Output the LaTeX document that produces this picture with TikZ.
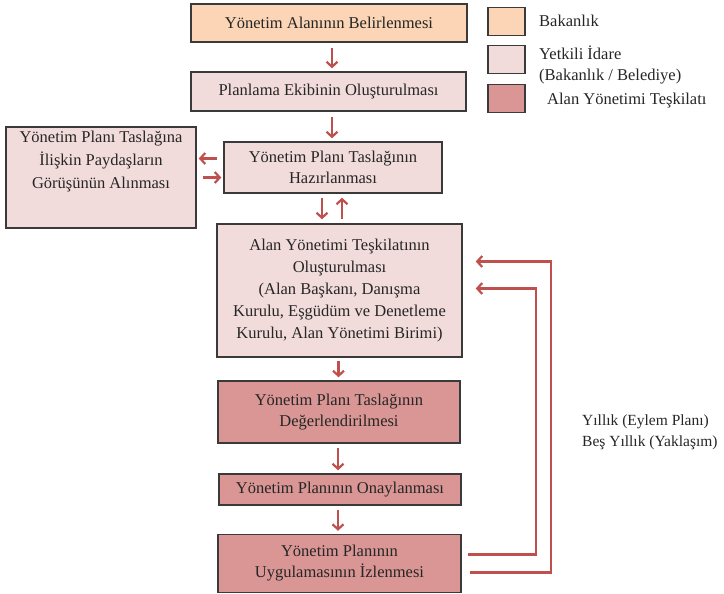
\documentclass[tikz,border=0pt]{standalone}
\usepackage{fontspec}
\setmainfont{Liberation Serif}
\usetikzlibrary{arrows.meta,calc}
\definecolor{peach}{HTML}{FBD5B5}
\definecolor{lpink}{HTML}{F2DCDB}
\definecolor{rose}{HTML}{D99694}
\definecolor{arr}{HTML}{C0504D}
\definecolor{edge}{HTML}{3A3A3A}
\begin{document}
\begin{tikzpicture}[x=1pt,y=-1pt,
  box/.style={draw=edge, line width=1.5pt, align=center, inner sep=0pt,
    text=black!85, font=\fontsize{16.5}{21}\selectfont},
  plain/.style={inner sep=0pt, text=black!85, font=\fontsize{16.5}{21}\selectfont},
  legsq/.style={draw=edge, line width=1.5pt, minimum width=37pt, minimum height=28pt, inner sep=0pt},
  ar/.style={draw=arr, line width=2.2pt, -{Straight Barb[length=5pt,width=11pt]}},
]
\useasboundingbox (0,0) rectangle (724,594);

% main boxes
\node[box, fill=peach, minimum width=276pt, minimum height=38pt] (b1) at (329,23) {Yönetim Alanının Belirlenmesi};
\node[box, fill=lpink, minimum width=275pt, minimum height=39pt] (b2) at (328.5,91.5) {Planlama Ekibinin Oluşturulması};
\node[box, fill=lpink, minimum width=218pt, minimum height=51pt] (b3) at (333,167.5) {Yönetim Planı Taslağının\\Hazırlanması};
\node[box, fill=lpink, minimum width=190pt, minimum height=101pt] (lb) at (101,177.5) {};
\node[plain, align=center, font=\fontsize{16.5}{23}\selectfont] (lbt) at ($(lb.north)+(0,35)$) {Yönetim Planı Taslağına\\İlişkin Paydaşların\\Görüşünün Alınması};
\node[box, fill=lpink, minimum width=245pt, minimum height=133pt, font=\fontsize{16.5}{22}\selectfont] (b4) at (339.5,290.5) {Alan Yönetimi Teşkilatının\\Oluşturulması\\(Alan Başkanı, Danışma\\Kurulu, Eşgüdüm ve Denetleme\\Kurulu, Alan Yönetimi Birimi)};
\node[box, fill=rose, minimum width=242pt, minimum height=62pt] (b5) at (339,412) {Yönetim Planı Taslağının\\Değerlendirilmesi};
\node[box, fill=rose, minimum width=242pt, minimum height=31pt] (b6) at (340,489.5) {Yönetim Planının Onaylanması};
\node[box, fill=rose, minimum width=243pt, minimum height=58pt] (b7) at (339.5,563.5) {Yönetim Planının\\Uygulamasının İzlenmesi};

% legend
\node[legsq, fill=peach] (l1) at (506.5,21.5) {};
\node[legsq, fill=lpink] (l2) at (506.5,59.5) {};
\node[legsq, fill=rose] (l3) at (506.5,98.5) {};
\node[plain, anchor=west] (t1) at (539,21) {Bakanlık};
\node[plain, anchor=west, align=left] (t2) at (539,65) {Yetkili İdare\\(Bakanlık / Belediye)};
\node[plain, anchor=west] (t3) at (547,101) {Alan Yönetimi Teşkilatı};

% feedback label
\node[plain, anchor=west, align=left, font=\fontsize{15.5}{21}\selectfont] (fbl) at (582,432) {Yıllık (Eylem Planı)\\Beş Yıllık (Yaklaşım)};

% vertical flow arrows
\draw[ar] ($(b1.south)+(3,5)$) -- ($(b1.south |- b2.north)+(3,-3)$);
\draw[ar] ($(b2.south -| b3.north)+(-1,5)$) -- ($(b3.north)+(-1,-3)$);
\draw[ar] ($(b3.south)+(-11,4)$) -- ($(b3.south |- b4.north)+(-11,-4)$);
\draw[ar] ($(b3.south |- b4.north)+(9,-4)$) -- ($(b3.south)+(9,4)$);
\draw[ar] ($(b4.south)+(-1,3)$) -- ($(b4.south |- b5.north)+(-1,-3)$);
\draw[ar] ($(b5.south)+(-1,4)$) -- ($(b5.south |- b6.north)+(-1,-3)$);
\draw[ar] ($(b6.south)+(-2,4)$) -- ($(b6.south |- b7.north)+(-2,-3)$);

% side arrows
\draw[ar] ($(b3.west)+(-6,-9)$) -- ($(lb.east |- b3.west)+(2,-9)$);
\draw[ar] ($(lb.east |- b3.west)+(6,10)$) -- ($(b3.west)+(-2,10)$);

% feedback loops
\draw[ar] ($(b7.east)+(6,-9)$) -| ($(b4.east)+(73,-2)$) -- ($(b4.east)+(13,-2)$);
\draw[ar] ($(b7.east)+(8,9)$) -| ($(b4.east)+(88,-29)$) -- ($(b4.east)+(13,-29)$);
\end{tikzpicture}
\end{document}
